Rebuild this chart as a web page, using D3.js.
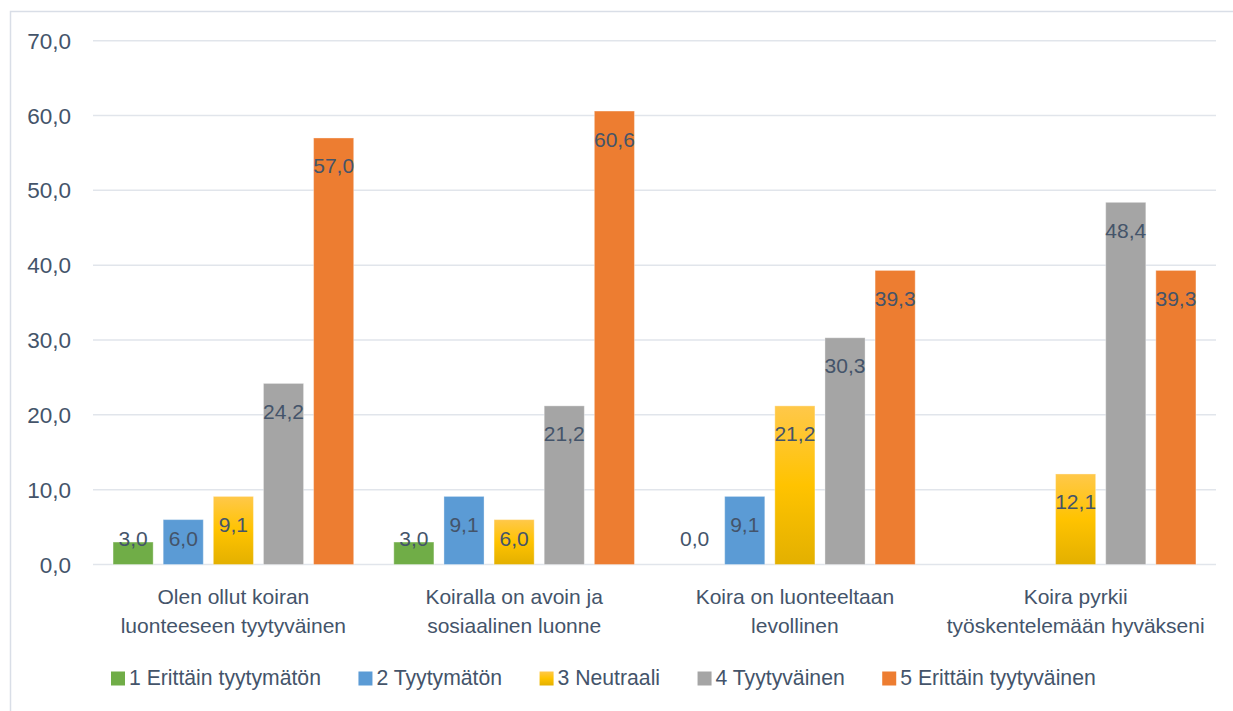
<!DOCTYPE html>
<html>
<head>
<meta charset="utf-8">
<script src="https://cdn.jsdelivr.net/npm/d3@7"></script>
<style>
  body { margin: 0; background: #fff; }
  text { font-family: "Liberation Sans", Arial, sans-serif; fill: #44546A; }
</style>
</head>
<body>
<script>
var width = 1233, height = 711

// data
var categories = [
  ["Olen ollut koiran", "luonteeseen tyytyväinen"],
  ["Koiralla on avoin ja", "sosiaalinen luonne"],
  ["Koira on luonteeltaan", "levollinen"],
  ["Koira pyrkii", "työskentelemään hyväkseni"]
]
var seriesNames = ["1 Erittäin tyytymätön", "2 Tyytymätön", "3 Neutraali", "4 Tyytyväinen", "5 Erittäin tyytyväinen"]
var s1 = [3.0, 3.0, 0.0, null]
var s2 = [6.0, 9.1, 9.1, null]
var s3 = [9.1, 6.0, 21.2, 12.1]
var s4 = [24.2, 21.2, 30.3, 48.4]
var s5 = [57.0, 60.6, 39.3, 39.3]
var seriesValues = [s1, s2, s3, s4, s5]
var yTicks = [0, 10, 20, 30, 40, 50, 60, 70]
var colors = ["#70AD47", "#5B9BD5", "url(#yellowGrad)", "#A5A5A5", "#ED7D31"]

var svg = d3.select("body").append("svg")
            .attr("width", width)
            .attr("height", height)

var defs = svg.append("defs")
var grad = defs.append("linearGradient").attr("id", "yellowGrad")
               .attr("x1", 0).attr("y1", 0).attr("x2", 0).attr("y2", 1)
grad.append("stop").attr("offset", "0%").attr("stop-color", "#FFC84A")
grad.append("stop").attr("offset", "50%").attr("stop-color", "#FFC300")
grad.append("stop").attr("offset", "100%").attr("stop-color", "#E3B000")

// chart area border (runs off the right/bottom of the picture)
svg.append("rect")
   .attr("x", 10.5).attr("y", 11.5)
   .attr("width", 1240).attr("height", 720)
   .style("fill", "none").style("stroke", "#D9DEE7").style("stroke-width", 1.5)

var plotLeft = 93, plotRight = 1216

var y = d3.scaleLinear().domain([0, 70]).range([564.5, 40.7])
var x0 = d3.scaleBand().domain(d3.range(categories.length)).range([plotLeft, plotRight])
var x1 = d3.scaleBand().domain(d3.range(seriesNames.length))
           .range([0, x0.bandwidth()]).paddingInner(0.2).paddingOuter(0.4)

// gridlines
svg.append("g").selectAll("line").data(yTicks).enter().append("line")
   .attr("x1", plotLeft).attr("x2", plotRight)
   .attr("y1", function(d) { return y(d) }).attr("y2", function(d) { return y(d) })
   .style("stroke", "#E1E5EB").style("stroke-width", 1.5)

// y tick labels
svg.append("g").selectAll("text").data(yTicks).enter().append("text")
   .attr("x", 71).attr("y", function(d) { return y(d) + 8 })
   .attr("text-anchor", "end")
   .style("font-size", "22.5px")
   .text(function(d) { return d.toFixed(1).replace(".", ",") })

// bars
var bars = []
seriesValues.forEach(function(vals, si) {
  vals.forEach(function(v, ci) {
    if (v !== null) bars.push({ s: si, c: ci, v: v })
  })
})

svg.append("g").selectAll("rect").data(bars).enter().append("rect")
   .attr("x", function(d) { return x0(d.c) + x1(d.s) })
   .attr("y", function(d) { return y(d.v) })
   .attr("width", x1.bandwidth())
   .attr("height", function(d) { return y(0) - y(d.v) })
   .style("fill", function(d) { return colors[d.s] })
   .style("stroke", "rgba(255,255,255,0.35)").style("stroke-width", 1)

// data labels (inside end)
svg.append("g").selectAll("text").data(bars).enter().append("text")
   .attr("x", function(d) { return x0(d.c) + x1(d.s) + x1.bandwidth() / 2 })
   .attr("y", function(d) { return Math.min(y(d.v) + 28, y(0) - 26) + 7.5 })
   .attr("text-anchor", "middle")
   .style("font-size", "21px")
   .text(function(d) { return d.v.toFixed(1).replace(".", ",") })

// category labels
var catG = svg.append("g").selectAll("text").data(categories).enter().append("text")
   .attr("text-anchor", "middle")
   .style("font-size", "21px")
catG.each(function(lines, i) {
  var t = d3.select(this)
  lines.forEach(function(line, li) {
    t.append("tspan")
     .attr("x", x0(i) + x0.bandwidth() / 2)
     .attr("y", 604 + li * 28.5)
     .text(line)
  })
})

// legend
var lx = 111
var legend = svg.append("g")
seriesNames.forEach(function(name, i) {
  legend.append("rect")
        .attr("x", lx).attr("y", 671.5)
        .attr("width", 14).attr("height", 14)
        .style("fill", colors[i])
  var t = legend.append("text")
        .attr("x", lx + 18).attr("y", 685)
        .style("font-size", "21.2px")
        .text(name)
  lx = lx + 18 + t.node().getComputedTextLength() + 37.5
})
</script>
</body>
</html>
